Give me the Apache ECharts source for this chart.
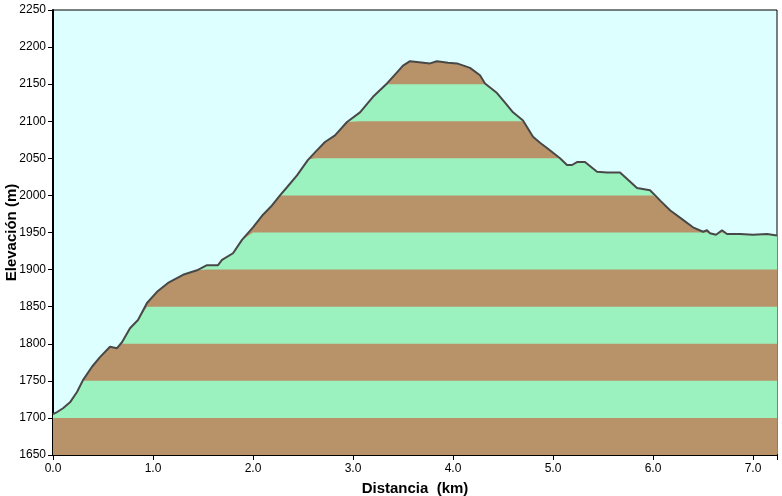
<!DOCTYPE html>
<html>
<head>
<meta charset="utf-8">
<script src="https://cdn.jsdelivr.net/npm/echarts@6/dist/echarts.min.js"></script>
<style>html,body{margin:0;padding:0;background:#fff;}#c{width:782px;height:496px;}</style>
</head>
<body>
<div id="c"></div>
<script>
const distKm = [0, 0.03, 0.10, 0.17, 0.24, 0.30, 0.39, 0.47, 0.57, 0.64, 0.69, 0.77, 0.85, 0.94, 1.04, 1.15, 1.30, 1.44, 1.54, 1.65, 1.69, 1.80, 1.89, 2.00, 2.10, 2.18, 2.27, 2.34, 2.44, 2.55, 2.62, 2.72, 2.82, 2.94, 3.07, 3.20, 3.34, 3.44, 3.50, 3.57, 3.64, 3.77, 3.84, 3.95, 4.04, 4.17, 4.27, 4.32, 4.44, 4.52, 4.60, 4.70, 4.80, 4.87, 4.94, 5.07, 5.14, 5.19, 5.24, 5.32, 5.44, 5.54, 5.67, 5.75, 5.84, 5.97, 6.00, 6.08, 6.17, 6.30, 6.40, 6.50, 6.54, 6.57, 6.63, 6.69, 6.74, 6.87, 7.00, 7.14, 7.24];
const elevM = [1705, 1707, 1713, 1721, 1735, 1751, 1769, 1782, 1796, 1794, 1802, 1821, 1832, 1855, 1870, 1882, 1893, 1899, 1906, 1906, 1913, 1922, 1940, 1957, 1974, 1985, 2000, 2011, 2027, 2048, 2058, 2072, 2081, 2099, 2112, 2133, 2151, 2166, 2175, 2181, 2180, 2178, 2181, 2179, 2178, 2172, 2162, 2151, 2138, 2125, 2112, 2101, 2079, 2071, 2064, 2050, 2041, 2041, 2045, 2045, 2032, 2031, 2031, 2021, 2010, 2007, 2003, 1992, 1980, 1967, 1957, 1951, 1953, 1949, 1947, 1953, 1948, 1948, 1947, 1948, 1946];
// band tops (every 50 m) used for the striped fill
const bandTops = [2200, 2150, 2100, 2050, 2000, 1950, 1900, 1850, 1800, 1750, 1700];
const bandColors = ['#B8936A', '#9CF2BE'];

const FONT = '"Liberation Sans", Arial, sans-serif';
const series = [];
bandTops.forEach(function (top) {
  const idx = Math.round((top - 1700) / 50) % 2; // 1700 top -> brown
  series.push({
    type: 'line',
    silent: true,
    symbol: 'none',
    lineStyle: { width: 0 },
    areaStyle: { color: bandColors[idx], opacity: 1 },
    data: distKm.map(function (d, i) { return [d, Math.min(elevM[i], top)]; })
  });
});
series.push({
  type: 'line',
  symbol: 'none',
  lineStyle: { color: '#484848', width: 2 },
  data: distKm.map(function (d, i) { return [d, elevM[i]]; })
});

const chart = echarts.init(document.getElementById('c'), null, { renderer: 'canvas' });
chart.setOption({
  animation: false,
  backgroundColor: '#FFFFFF',
  grid: { left: 53, right: 5, top: 10, bottom: 41, containLabel: false, outerBoundsMode: 'none',
    show: true, backgroundColor: '#DDFFFF', borderColor: '#000', borderWidth: 1 },
  xAxis: {
    type: 'value', min: 0, max: 7.24, interval: 1,
    name: 'Distancia  (km)', nameLocation: 'middle', nameGap: 26, nameMoveOverlap: false,
    nameTextStyle: { fontFamily: FONT, fontWeight: 'bold', fontSize: 15, color: '#000' },
    axisLine: { lineStyle: { color: '#000', width: 2 } },
    axisTick: { length: 5, lineStyle: { color: '#000', width: 1 } },
    axisLabel: { fontFamily: FONT, fontSize: 12, color: '#000', margin: 8,
      formatter: function (v) { return Math.abs(v - Math.round(v)) < 1e-6 ? v.toFixed(1) : ''; } },
    splitLine: { show: false }
  },
  yAxis: {
    type: 'value', min: 1650, max: 2250, interval: 50,
    name: 'Elevación (m)', nameLocation: 'middle', nameGap: 34, nameMoveOverlap: false,
    nameTextStyle: { fontFamily: FONT, fontWeight: 'bold', fontSize: 15, color: '#000' },
    axisLine: { lineStyle: { color: '#000', width: 2 } },
    axisTick: { length: 5, lineStyle: { color: '#000', width: 1 } },
    axisLabel: { fontFamily: FONT, fontSize: 12, color: '#000', margin: 7,
      formatter: function (v) { return String(v); } },
    splitLine: { show: false }
  },
  series: series
});
</script>
</body>
</html>
